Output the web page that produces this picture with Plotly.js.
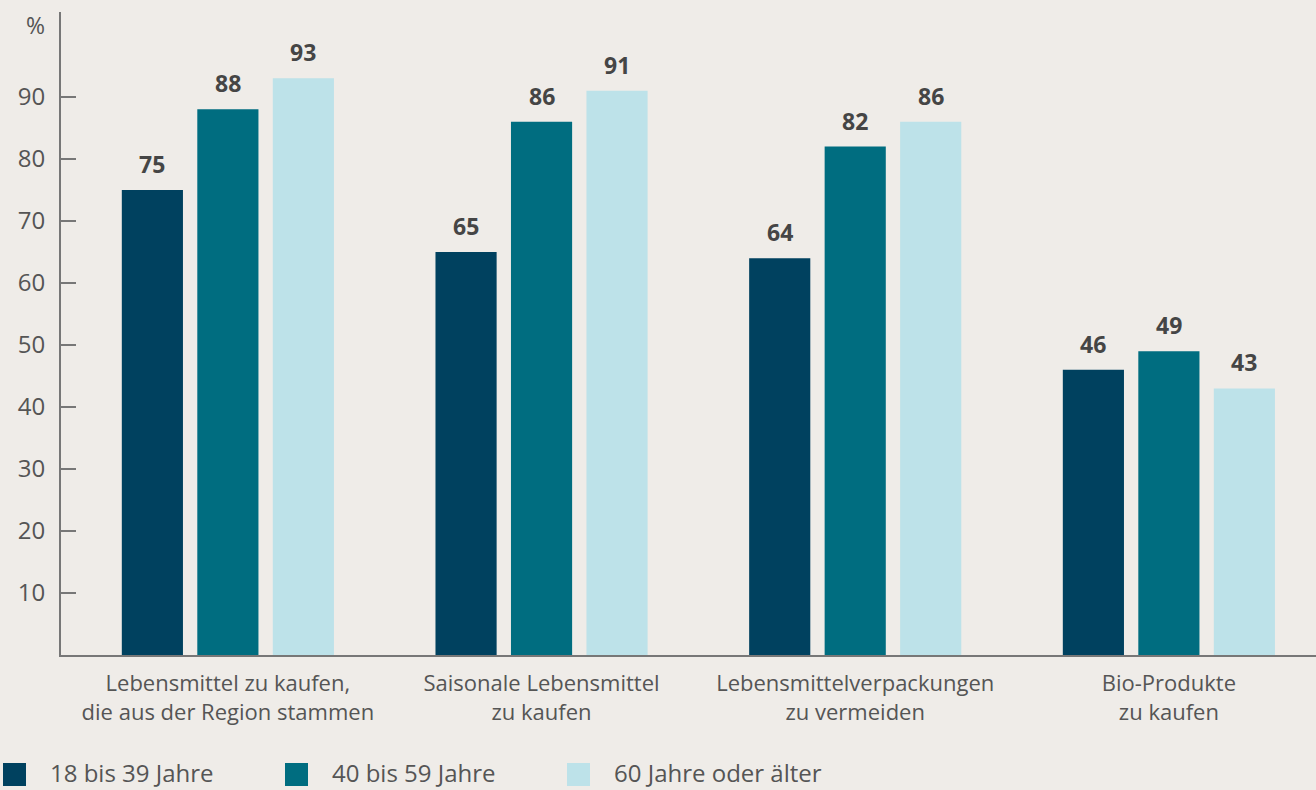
<!DOCTYPE html>
<html><head><meta charset="utf-8">
<script src="https://cdn.plot.ly/plotly-3.0.1.min.js"></script>
<style>html,body{margin:0;padding:0;background:#efece8;}#chart{width:1316px;height:790px;}</style>
</head><body><div id="chart"></div>
<script>
const categories = [
  "Lebensmittel zu kaufen,<br>die aus der Region stammen",
  "Saisonale Lebensmittel<br>zu kaufen",
  "Lebensmittelverpackungen<br>zu vermeiden",
  "Bio-Produkte<br>zu kaufen"
];
const seriesNames = ["18 bis 39 Jahre", "40 bis 59 Jahre", "60 Jahre oder älter"];
const young = [75, 65, 64, 46];
const middle = [88, 86, 82, 49];
const old = [93, 91, 86, 43];
const yTicks = [10, 20, 30, 40, 50, 60, 70, 80, 90];
const colors = ["#00415f", "#006d80", "#bde2e9"];
const series = [young, middle, old];
const FONT = "'Open Sans', sans-serif";

// plot-area geometry in pixels (for placing the custom legend)
const W = 1316, H = 790, ML = 61, MR = 0, MT = 12, MB = 135;
const PW = W - ML - MR, PH = H - MT - MB;
const px2x = p => (p - ML) / PW;
const px2y = p => (H - MB - p) / PH;

const traces = series.map((vals, i) => ({
  type: "bar", x: categories, y: vals, name: seriesNames[i],
  marker: {color: colors[i]}, showlegend: false, hoverinfo: "skip"
}));

const annotations = [];
series.forEach((vals, i) => {
  vals.forEach((v, j) => {
    annotations.push({
      x: categories[j], y: v, xref: "x", yref: "y", text: String(v),
      showarrow: false, xanchor: "center", yanchor: "bottom",
      xshift: (i - 1) * 75.5, yshift: 8,
      font: {family: FONT, size: 23, color: "#454545", weight: 700}
    });
  });
});
annotations.push({
  xref: "paper", yref: "paper", x: 0, y: 1, xanchor: "right", yanchor: "top",
  xshift: -14, yshift: 5, text: "%", showarrow: false,
  font: {family: FONT, size: 23, color: "#555"}
});

const shapes = [];
const legendStarts = [3, 285, 567];
seriesNames.forEach((name, i) => {
  shapes.push({
    type: "rect", xref: "paper", yref: "paper",
    x0: px2x(legendStarts[i]), x1: px2x(legendStarts[i] + 23),
    y0: px2y(786), y1: px2y(763),
    fillcolor: colors[i], line: {width: 0}
  });
  annotations.push({
    xref: "paper", yref: "paper", x: px2x(legendStarts[i] + 45), y: px2y(773),
    xanchor: "left", yanchor: "middle", text: name, showarrow: false,
    font: {family: FONT, size: 24, color: "#555"}
  });
});

const layout = {
  width: W, height: H,
  paper_bgcolor: "#efece8", plot_bgcolor: "#efece8",
  margin: {l: ML, r: MR, t: MT, b: MB},
  barmode: "group", bargap: 0.278, bargroupgap: 0.19,
  font: {family: FONT, color: "#555"},
  xaxis: {
    type: "category", range: [-0.532, 3.469],
    showline: true, linecolor: "#777", linewidth: 2,
    ticks: "", showgrid: false, zeroline: false, ticklabelstandoff: 8,
    tickfont: {family: FONT, size: 22, color: "#555"}
  },
  yaxis: {
    range: [0, 103.7], tickvals: yTicks, ticktext: yTicks.map(String),
    showline: true, linecolor: "#777", linewidth: 2,
    ticks: "inside", ticklen: 15, tickcolor: "#777", tickwidth: 2,
    showgrid: false, zeroline: false, ticklabelstandoff: 9,
    tickfont: {family: FONT, size: 24, color: "#555"}
  },
  shapes: shapes,
  annotations: annotations,
  showlegend: false
};
Plotly.newPlot("chart", traces, layout, {displayModeBar: false, staticPlot: true});
</script></body></html>
